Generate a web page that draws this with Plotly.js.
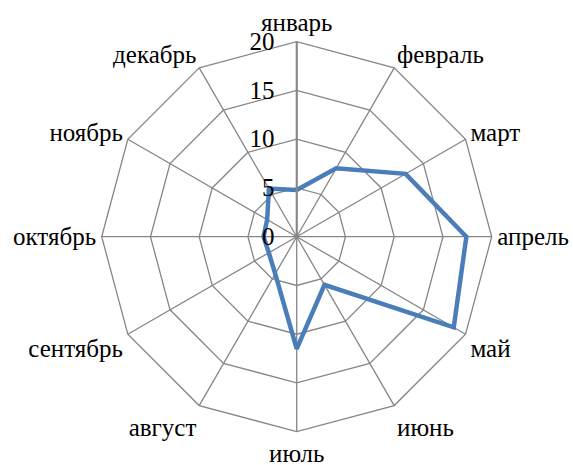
<!DOCTYPE html>
<html>
<head>
<meta charset="utf-8">
<script src="https://cdn.plot.ly/plotly-3.0.1.min.js"></script>
<style>html,body{margin:0;padding:0;background:#fff;}#chart{width:573px;height:465px;}</style>
</head>
<body>
<div id="chart"></div>
<script>
const months = ["январь","февраль","март","апрель","май","июнь","июль","август","сентябрь","октябрь","ноябрь","декабрь"];
const values = [4.8, 8.1, 12.9, 17.4, 18.6, 5.7, 11.5, 4.4, 3.3, 3.4, 3.5, 5.7];
const radialTicks = [0, 5, 10, 15, 20];
const radialTickText = ["0", "5", "10", "15", "20"];

const trace = {
  type: "scatterpolar",
  r: values.concat([values[0]]),
  theta: months.concat([months[0]]),
  mode: "lines",
  line: {color: "#4a7ebb", width: 4.5},
  hoverinfo: "skip"
};

const layout = {
  width: 573, height: 465,
  margin: {l: 0, r: 0, t: 0, b: 0},
  paper_bgcolor: "#fff",
  showlegend: false,
  font: {family: "Liberation Serif", size: 25, color: "#000"},
  polar: {
    domain: {x: [0.1775, 0.8581], y: [0.0716, 0.9103]},
    gridshape: "linear",
    bgcolor: "#fff",
    angularaxis: {
      rotation: 90,
      direction: "clockwise",
      categoryorder: "array",
      categoryarray: months,
      showline: true,
      linecolor: "#868686",
      linewidth: 1.3,
      gridcolor: "#868686",
      gridwidth: 1.3,
      ticks: "",
      tickfont: {family: "Liberation Serif", size: 25, color: "#000"}
    },
    radialaxis: {
      range: [0, 20],
      tickvals: radialTicks,
      ticktext: radialTickText.map(t => t + "\u00a0\u00a0"),
      angle: 90,
      tickangle: 90,
      side: "counterclockwise",
      showline: true,
      linecolor: "#868686",
      linewidth: 2,
      gridcolor: "#868686",
      gridwidth: 1.3,
      ticks: "",
      tickfont: {family: "Liberation Serif", size: 25, color: "#000"}
    }
  }
};

Plotly.newPlot("chart", [trace], layout, {displayModeBar: false, staticPlot: true});
</script>
</body>
</html>
